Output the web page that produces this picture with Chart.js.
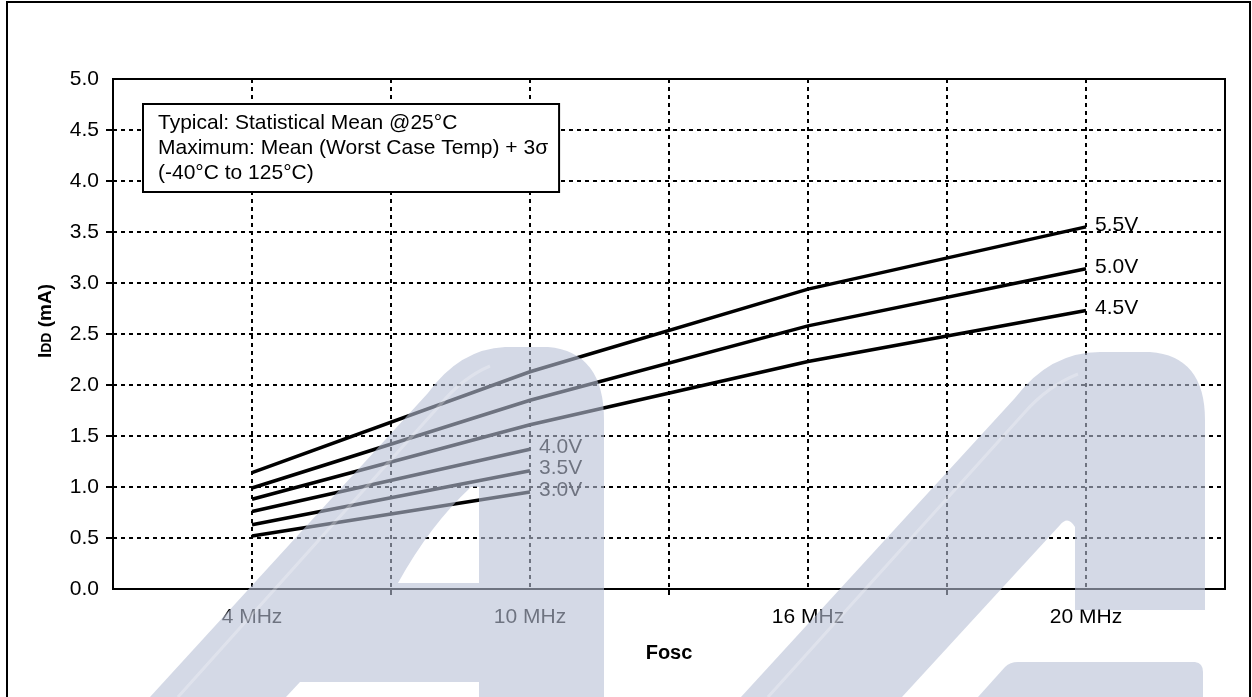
<!DOCTYPE html>
<html>
<head>
<meta charset="utf-8">
<script src="https://cdn.jsdelivr.net/npm/chart.js@4.4.1/dist/chart.umd.min.js"></script>
<style>
  html, body { margin: 0; padding: 0; background: #fff; overflow: hidden; }
  #wrap { position: relative; width: 1252px; height: 697px; }
</style>
</head>
<body>
<div id="wrap"><canvas id="iddChart"></canvas></div>
<script>
// -------- DATA --------
const freqLabels = ["4 MHz", "10 MHz", "16 MHz", "20 MHz"];
const seriesNames = ["5.5V", "5.0V", "4.5V", "4.0V", "3.5V", "3.0V"];

const idd55 = [1.14, 2.13, 2.94, 3.55];
const idd50 = [0.99, 1.85, 2.58, 3.14];
const idd45 = [0.88, 1.61, 2.23, 2.73];
const idd40 = [0.76, 1.37];
const idd35 = [0.63, 1.16];
const idd30 = [0.52, 0.95];

const noteLines = [
    "Typical: Statistical Mean @25°C",
    "Maximum: Mean (Worst Case Temp) + 3σ",
    "(-40°C to 125°C)"
];

const FONT = '"Liberation Sans", Arial, sans-serif';
Chart.defaults.font.family = FONT;
Chart.defaults.font.size = 21;
Chart.defaults.color = "#000";

const seriesValues = [idd55, idd50, idd45, idd40, idd35, idd30];

const datasets = seriesValues.map((vals, i) => ({
    label: seriesNames[i],
    data: vals.map((v, j) => ({ x: j, y: v })),
    borderColor: "#000",
    borderWidth: 3.5,
    pointRadius: 0,
    tension: 0,
    fill: false
}));

// -------- PLUGINS --------
const pageFrame = {
    id: "pageFrame",
    beforeDraw(chart) {
        const c = chart.ctx;
        c.save();
        c.fillStyle = "#fff";
        c.fillRect(0, 0, chart.width, chart.height);
        c.strokeStyle = "#000";
        c.lineWidth = 2;
        c.beginPath();
        c.moveTo(7, chart.height + 5);
        c.lineTo(7, 2);
        c.lineTo(chart.width - 2, 2);
        c.lineTo(chart.width - 2, chart.height + 5);
        c.stroke();
        c.restore();
    }
};

const plotBox = {
    id: "plotBox",
    beforeDatasetsDraw(chart) {
        const { left, top, right, bottom } = chart.chartArea;
        const c = chart.ctx;
        c.save();
        c.strokeStyle = "#000";
        c.lineWidth = 2;
        c.strokeRect(left, top, right - left, bottom - top);
        c.restore();
    }
};

const lineLabels = {
    id: "lineLabels",
    afterDatasetsDraw(chart) {
        const c = chart.ctx;
        c.save();
        c.font = "21px " + FONT;
        c.fillStyle = "#000";
        c.textBaseline = "middle";
        c.textAlign = "left";
        chart.data.datasets.forEach((ds, i) => {
            const pts = chart.getDatasetMeta(i).data;
            const last = pts[pts.length - 1];
            c.fillText(ds.label, last.x + 9, last.y - 2);
        });
        c.restore();
    }
};

const notesBox = {
    id: "notesBox",
    afterDatasetsDraw(chart) {
        const c = chart.ctx;
        const x0 = chart.chartArea.left + 30;
        const y0 = chart.chartArea.top + 25;
        c.save();
        c.font = "21px " + FONT;
        const w = Math.max(...noteLines.map(t => c.measureText(t).width)) + 26;
        c.fillStyle = "#fff";
        c.fillRect(x0, y0, w, 88);
        c.strokeStyle = "#000";
        c.lineWidth = 2;
        c.strokeRect(x0, y0, w, 88);
        c.fillStyle = "#000";
        c.textBaseline = "alphabetic";
        noteLines.forEach((t, i) => c.fillText(t, x0 + 15, y0 + 25 + i * 25));
        c.restore();
    }
};

const axisTitles = {
    id: "axisTitles",
    afterDraw(chart) {
        const c = chart.ctx;
        const { left, right, top, bottom } = chart.chartArea;
        c.save();
        c.fillStyle = "#000";
        c.textBaseline = "alphabetic";

        // x title
        c.font = "bold 20px " + FONT;
        c.textAlign = "center";
        c.fillText("Fosc", (left + right) / 2, bottom + 70);

        // y title with subscript
        const parts = [["I", "bold 19px "], ["DD", "bold 14px "], [" (mA)", "bold 19px "]];
        let total = 0;
        parts.forEach(p => { c.font = p[1] + FONT; total += c.measureText(p[0]).width; });
        c.translate(51, (top + bottom) / 2 - 13);
        c.rotate(-Math.PI / 2);
        c.textAlign = "left";
        let x = -total / 2;
        parts.forEach(p => {
            c.font = p[1] + FONT;
            c.fillText(p[0], x, 0);
            x += c.measureText(p[0]).width;
        });
        c.restore();
    }
};

// background logo watermark laid over the whole picture
const watermark = {
    id: "watermark",
    afterDraw(chart) {
        const c = chart.ctx;
        c.save();
        c.fillStyle = "rgba(183,192,213,0.6)";

        c.beginPath();
        c.moveTo(150, 697);
        c.lineTo(428, 393);
        c.quadraticCurveTo(460, 349, 505, 347);
        c.lineTo(548, 347);
        c.quadraticCurveTo(604, 352, 604, 420);
        c.lineTo(604, 697);
        c.lineTo(479, 697);
        c.lineTo(479, 682);
        c.lineTo(300, 682);
        c.lineTo(286, 697);
        c.closePath();
        c.moveTo(398, 583);
        c.lineTo(479, 583);
        c.lineTo(479, 487);
        c.lineTo(471, 487);
        c.quadraticCurveTo(430, 525, 398, 583);
        c.closePath();
        c.fill("evenodd");

        c.beginPath();
        c.moveTo(741, 697);
        c.lineTo(1015, 398);
        c.quadraticCurveTo(1050, 352, 1100, 352);
        c.lineTo(1150, 352);
        c.quadraticCurveTo(1205, 356, 1205, 420);
        c.lineTo(1205, 610);
        c.lineTo(1075, 610);
        c.lineTo(1075, 527);
        c.quadraticCurveTo(1068, 515, 1060, 525);
        c.lineTo(902, 697);
        c.closePath();
        c.fill();

        c.beginPath();
        c.moveTo(978, 697);
        c.lineTo(1005, 667);
        c.quadraticCurveTo(1010, 662, 1018, 662);
        c.lineTo(1195, 662);
        c.quadraticCurveTo(1203, 663, 1203, 672);
        c.lineTo(1203, 697);
        c.closePath();
        c.fill();

        // soft highlights
        c.strokeStyle = "rgba(255,255,255,0.25)";
        c.lineWidth = 3;
        c.beginPath();
        c.moveTo(178, 697);
        c.lineTo(440, 405);
        c.quadraticCurveTo(462, 378, 490, 366);
        c.moveTo(768, 697);
        c.lineTo(1025, 412);
        c.quadraticCurveTo(1048, 386, 1078, 374);
        c.stroke();
        c.restore();
    }
};

// -------- CHART --------
const ctx = document.getElementById("iddChart").getContext("2d");

const iddChart = new Chart(ctx, {
    type: "line",
    data: { datasets },
    options: {
        responsive: true,
        maintainAspectRatio: false,
        animation: false,
        layout: { padding: { left: 0, top: 79, right: 27, bottom: 0 } },
        plugins: { legend: { display: false }, tooltip: { enabled: false } },
        scales: {
            x: {
                type: "linear",
                min: -0.5,
                max: 3.5,
                afterFit: s => { s.height = 108; },
                afterBuildTicks: s => {
                    s.ticks = [];
                    for (let v = -0.5; v <= 3.5; v += 0.5) s.ticks.push({ value: v });
                },
                ticks: {
                    autoSkip: false,
                    maxRotation: 0,
                    padding: 10,
                    callback: v => Number.isInteger(v) ? freqLabels[v] : ""
                },
                grid: {
                    color: "#000",
                    lineWidth: 2,
                    tickLength: 6,
                    tickWidth: 2,
                    tickColor: c => {
                        const v = c.tick ? c.tick.value : 0;
                        return (!Number.isInteger(v) && v > -0.5 && v < 3.5) ? "#000" : "rgba(0,0,0,0)";
                    }
                },
                border: { display: false, dash: [4, 4] }
            },
            y: {
                min: 0,
                max: 5,
                afterFit: s => { s.width = 113; },
                ticks: {
                    stepSize: 0.5,
                    padding: 7,
                    callback: v => v.toFixed(1)
                },
                grid: {
                    color: "#000",
                    lineWidth: 2,
                    tickLength: 7,
                    tickWidth: 2,
                    tickColor: c => {
                        const v = c.tick ? c.tick.value : 0;
                        return (v > 0 && v < 5) ? "#000" : "rgba(0,0,0,0)";
                    }
                },
                border: { display: false, dash: [4, 4] }
            }
        }
    },
    plugins: [pageFrame, plotBox, lineLabels, notesBox, axisTitles, watermark]
});
</script>
</body>
</html>
